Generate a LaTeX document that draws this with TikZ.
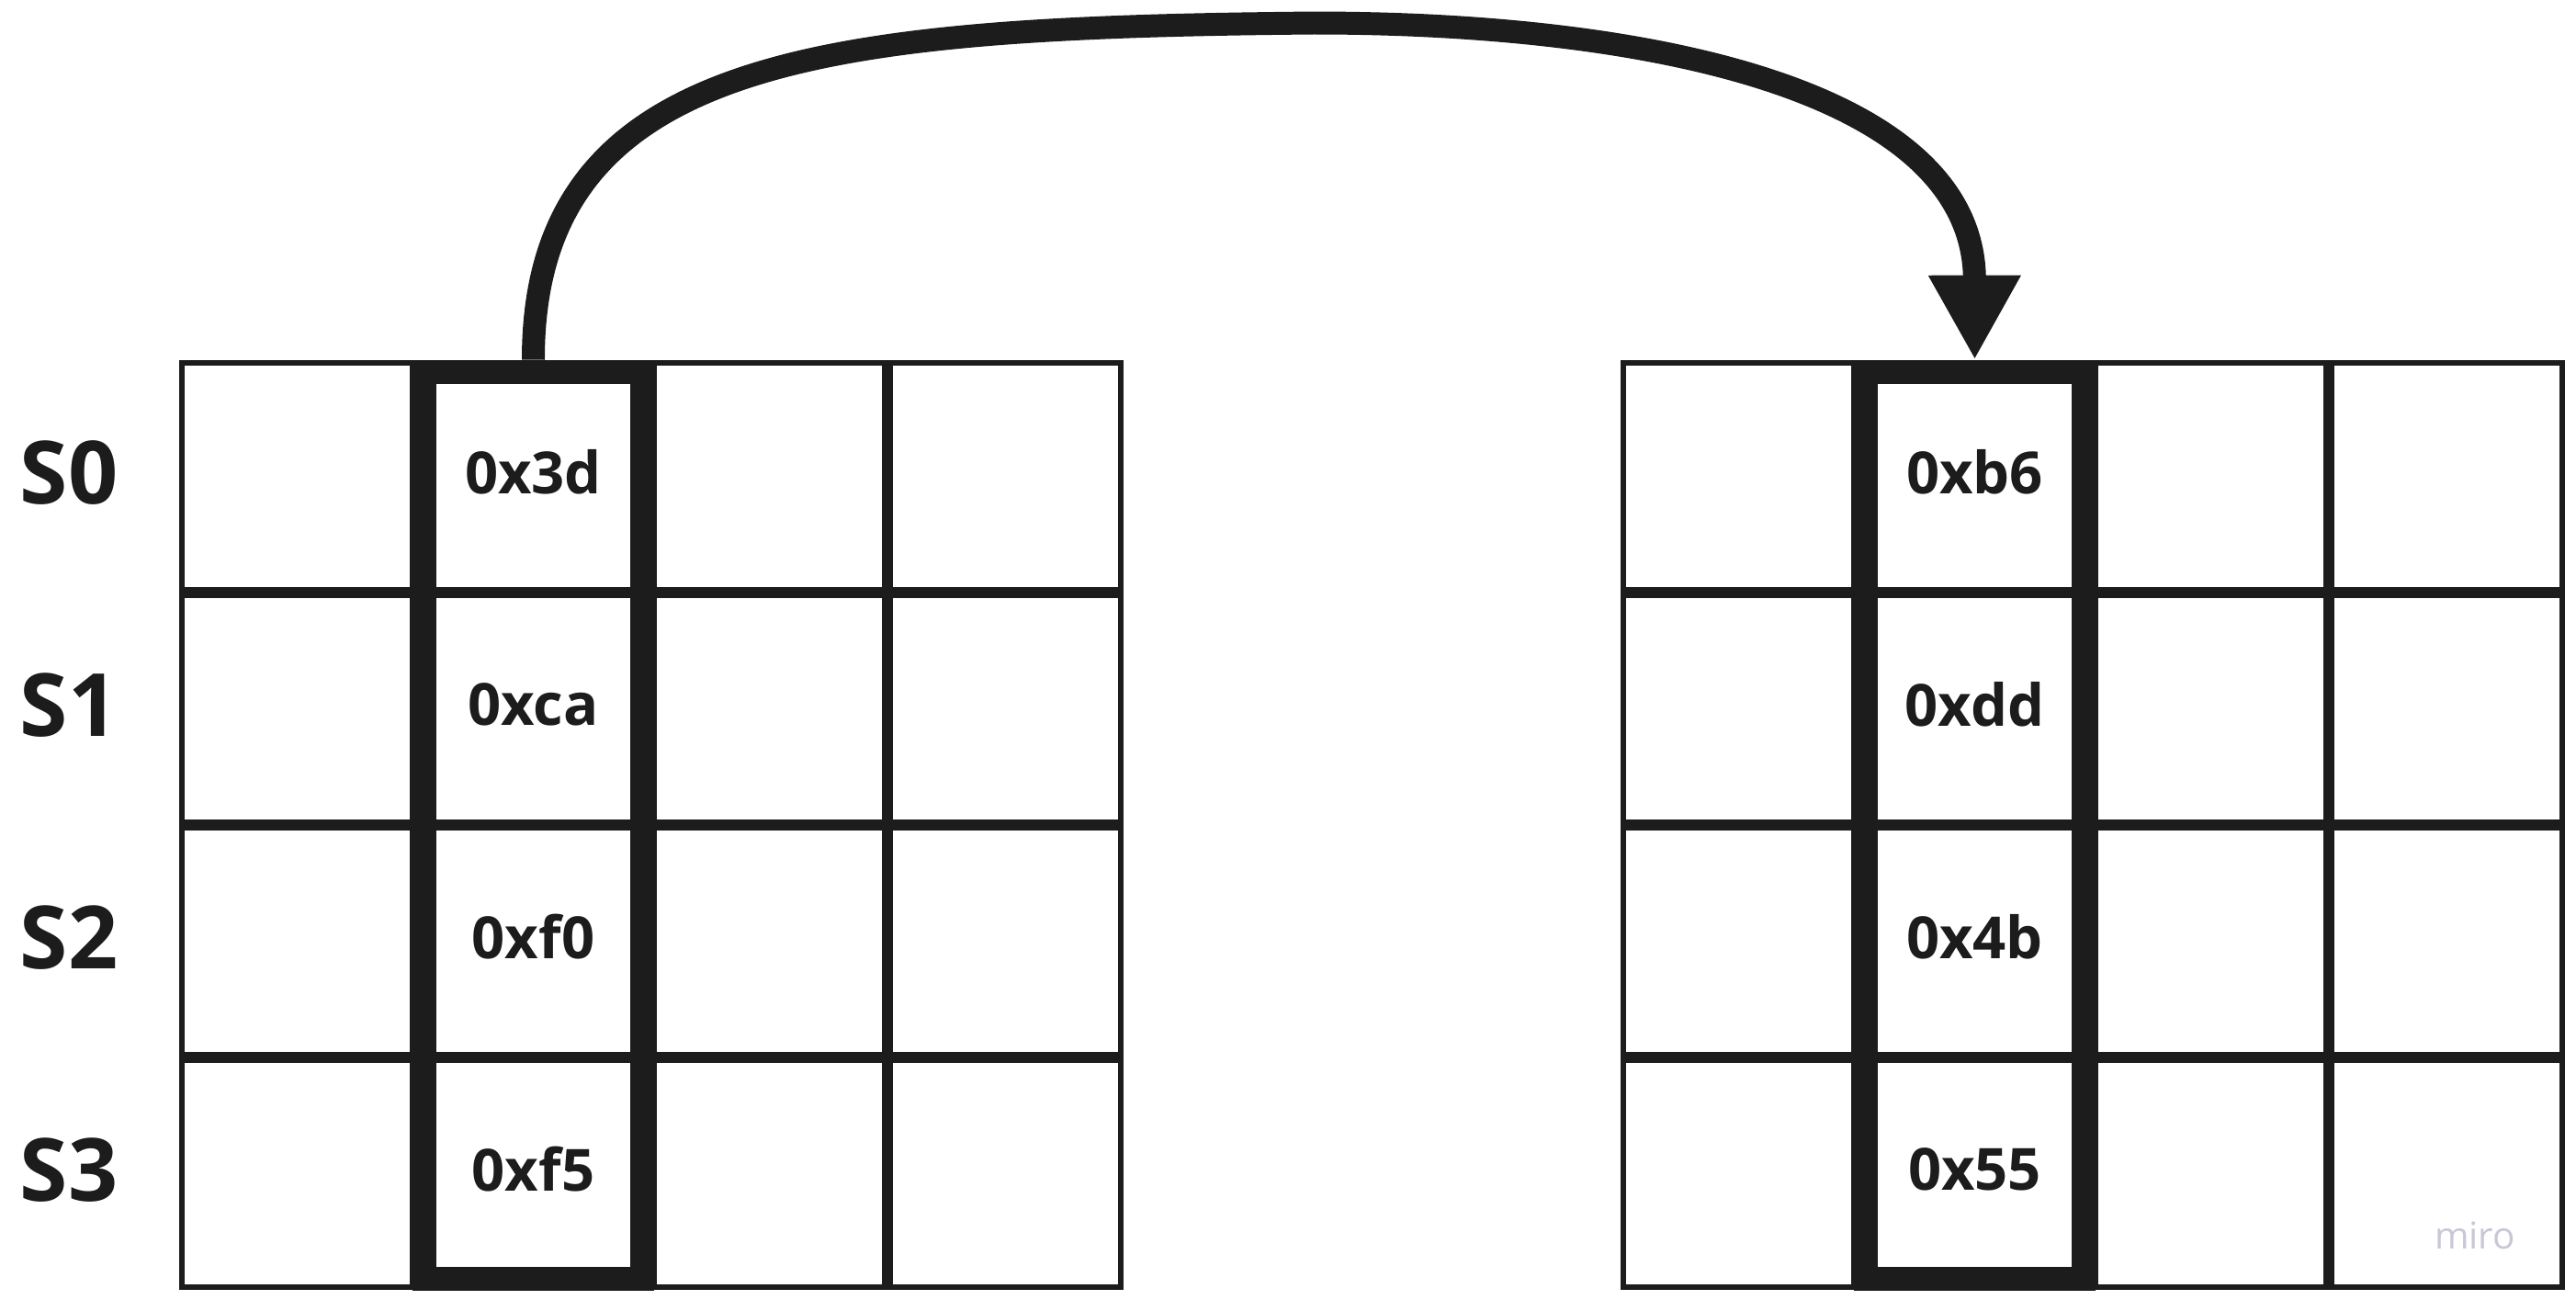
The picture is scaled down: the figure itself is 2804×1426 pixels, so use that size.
\documentclass[tikz,border=0pt]{standalone}
\usepackage{fontspec}
\setmainfont{Open Sans}
\usetikzlibrary{arrows.meta}
\definecolor{ink}{HTML}{1C1C1C}
\definecolor{wmark}{RGB}{200,200,214}

\begin{document}
\begin{tikzpicture}[x=0.01cm, y=-0.01cm,
  cell/.style={draw=ink, line width=1.85pt, minimum width=2.505cm,
    minimum height=2.465cm, inner sep=0pt, outer sep=0pt, text=ink,
    text depth=3pt, font=\fontsize{18}{22}\selectfont\bfseries},
  colbox/.style={draw=ink, line width=7.4pt, minimum width=2.37cm,
    minimum height=9.87cm, inner sep=0pt},
  rowlabel/.style={text=ink, font=\fontsize{27}{32}\selectfont\bfseries}]
  \useasboundingbox (0,0) rectangle (2804,1426);

  % state rows, left and right grid
  \foreach \r/\a/\b in {0/0x3d/0xb6, 1/0xca/0xdd, 2/0xf0/0x4b, 3/0xf5/0x55} {
    \node[rowlabel] (s\r) at (75, 514.5+253*\r) {S\r};
    \foreach \c in {0,2,3} {
      \node[cell] (l\r\c) at (323.5+257*\c, 518.5+253*\r) {};
      \node[cell] (r\r\c) at (1892.5+257*\c, 518.5+253*\r) {};
    }
    \node[cell] (l\r1) at (580.5, 518.5+253*\r) {\a};
    \node[cell] (r\r1) at (2149.5, 518.5+253*\r) {\b};
  }

  % highlighted columns
  \node[colbox] (lcol) at (580.5, 898.5) {};
  \node[colbox] (rcol) at (2149.5, 898.5) {};

  \draw[ink, line width=7.1pt, -{Triangle[length=0.92cm, width=0.94cm]}]
  (lcol.north) .. controls (580,60) and (900,30) .. (1430,25)
  .. controls (1800,25) and (2149,100) .. (rcol.north);

  \node[text=wmark, font=\fontsize{11.5}{14}\selectfont] (miro) at (2694,1345) {miro};
\end{tikzpicture}
\end{document}
